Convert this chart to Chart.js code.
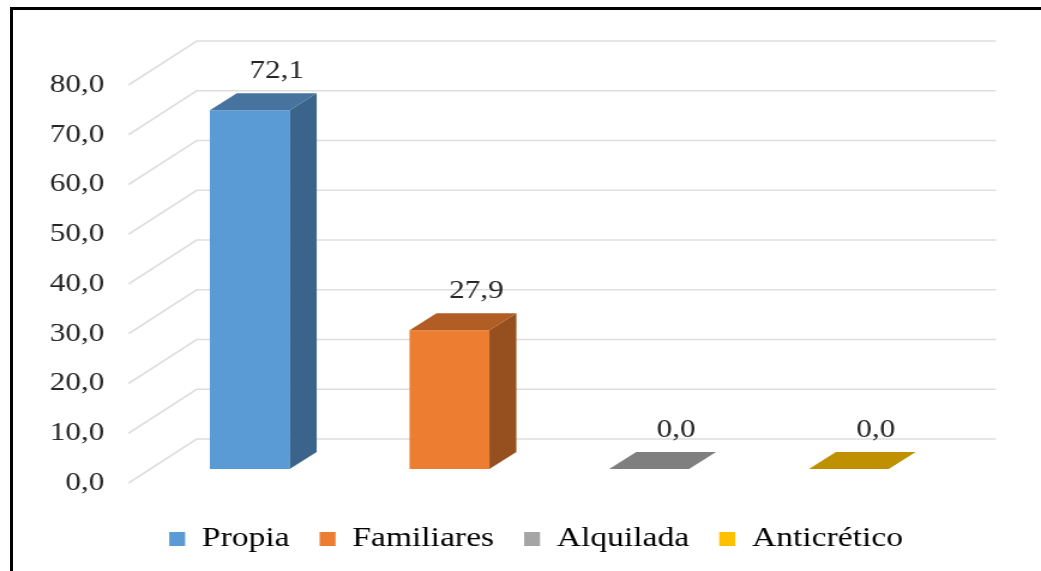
<!DOCTYPE html>
<html lang="es">
<head>
<meta charset="utf-8">
<title>Vivienda</title>
<script src="https://cdn.jsdelivr.net/npm/chart.js@4"></script>
<style>
html,body{margin:0;padding:0;background:#fff;overflow:hidden;width:1041px;height:571px}
#frame{position:absolute;left:10px;top:7px;width:1040px;height:600px;border:3px solid #000;box-sizing:content-box}
#wrap{position:absolute;left:0;top:0;width:868px;height:571px;transform-origin:0 0;transform:scaleX(1.1993);filter:blur(0.45px)}
canvas{display:block}
</style>
</head>
<body>
<div id="frame"></div>
<div id="wrap"><canvas id="c" width="868" height="571"></canvas></div>
<script>
const categories = ['Propia', 'Familiares', 'Alquilada', 'Anticrético'];
const values = [72.1, 27.9, 0.0, 0.0];
const tickValues = [0, 10, 20, 30, 40, 50, 60, 70, 80];

const frontColors = ['#5B9BD5', '#ED7D31', '#A5A5A5', '#FFC000'];
const topColors   = ['#47749F', '#B15D24', '#7F7F7F', '#BF9000'];
const sideColors  = ['#3A6489', '#964F1E', '#6E6E6E', '#A57C00'];

const FONT = '"Liberation Serif", "Times New Roman", serif';
const TEXT = '#262626';
const fmt = v => Number(v).toFixed(1).replace('.', ',');

const depth3d = {
  id: 'depth3d',
  beforeDatasetsDraw(chart) {
    const { ctx, chartArea: a, scales: { y } } = chart;
    ctx.save();
    ctx.strokeStyle = '#DEDEDE';
    ctx.lineWidth = 1.6;
    const fx = a.left - 17.8, bx = a.left + 39, ex = 830.5, dy = 44;
    tickValues.forEach(v => {
      const py = y.getPixelForValue(v);
      ctx.beginPath();
      ctx.moveTo(fx, py);
      ctx.lineTo(bx, py - dy);
      ctx.lineTo(ex, py - dy);
      ctx.stroke();
    });
    ctx.restore();
  },
  afterDatasetsDraw(chart) {
    const { ctx } = chart;
    const dx = 22.5, dy = 17;
    const bars = chart.getDatasetMeta(0).data;
    ctx.save();
    bars.forEach((b, i) => {
      const l = b.x - b.width / 2, r = b.x + b.width / 2, t = b.y, base = b.base;
      if (base - t > 0.5) {
        ctx.fillStyle = sideColors[i];
        ctx.beginPath();
        ctx.moveTo(r, t); ctx.lineTo(r + dx, t - dy); ctx.lineTo(r + dx, base - dy); ctx.lineTo(r, base);
        ctx.closePath(); ctx.fill();
      }
      ctx.fillStyle = topColors[i];
      ctx.beginPath();
      ctx.moveTo(l, t); ctx.lineTo(l + dx, t - dy); ctx.lineTo(r + dx, t - dy); ctx.lineTo(r, t);
      ctx.closePath(); ctx.fill();

      ctx.fillStyle = TEXT;
      ctx.font = '26px ' + FONT;
      ctx.textAlign = 'center';
      ctx.textBaseline = 'middle';
      ctx.fillText(fmt(values[i]), b.x + dx, t - dy - 22);
    });
    ctx.restore();
  }
};

new Chart(document.getElementById('c'), {
  type: 'bar',
  data: {
    labels: categories,
    datasets: [{
      data: values,
      yAxisID: 'bars',
      backgroundColor: frontColors,
      borderWidth: 0,
      barPercentage: 1,
      categoryPercentage: 0.4
    }]
  },
  plugins: [depth3d],
  options: {
    responsive: false,
    animation: false,
    devicePixelRatio: 1,
    layout: { padding: { left: 26, right: 0, top: 85, bottom: 8 } },
    scales: {
      x: {
        afterFit(s) { s.height = 17; },
        grid: { display: false },
        border: { display: false },
        ticks: { display: false }
      },
      y: {
        position: 'left',
        min: 0,
        max: 80,
        afterBuildTicks(s) { s.ticks = tickValues.map(v => ({ value: v })); },
        afterFit(s) { s.width = 99; },
        grid: { display: false },
        border: { display: false },
        ticks: {
          padding: 30,
          color: TEXT,
          font: { family: FONT, size: 26 },
          callback: v => fmt(v)
        }
      },
      bars: {
        position: 'right',
        min: -2.81,
        max: 77.19,
        afterFit(s) { s.width = 77; },
        grid: { display: false },
        border: { display: false },
        ticks: { display: false }
      }
    },
    plugins: {
      tooltip: { enabled: false },
      legend: {
        display: true,
        position: 'bottom',
        labels: {
          boxWidth: 13.3,
          boxHeight: 14,
          padding: 25,
          color: TEXT,
          font: { family: FONT, size: 28 },
          generateLabels: () => categories.map((c, i) => ({
            text: c,
            fillStyle: frontColors[i],
            strokeStyle: frontColors[i],
            lineWidth: 0,
            index: i,
            hidden: false
          }))
        }
      }
    }
  }
});
</script>
</body>
</html>
